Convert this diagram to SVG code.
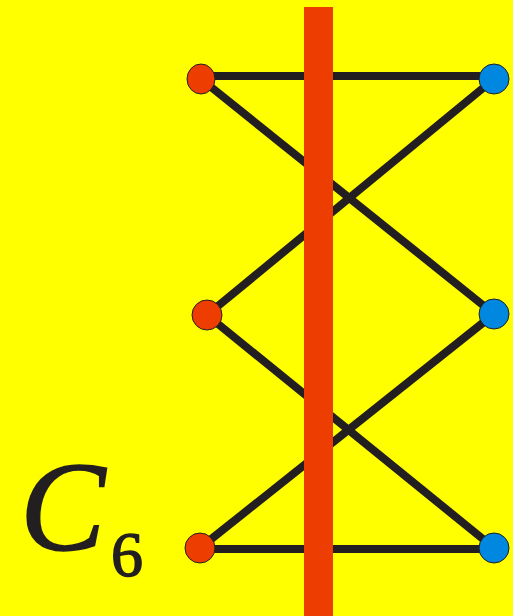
<svg xmlns="http://www.w3.org/2000/svg" width="513" height="616" viewBox="0 0 513 616">
<style>
.e{stroke:#231F20;stroke-width:8;fill:none;stroke-linecap:butt}
.r{fill:#EE3D00;stroke:#231F20;stroke-width:1}
.b{fill:#0088E0;stroke:#231F20;stroke-width:1}
.t{font-family:"Liberation Serif",serif;fill:#231F20}
</style>
<rect width="513" height="616" fill="#FFFF00"/>
<g id="edges">
<line class="e" x1="201" y1="76" x2="494" y2="76"/>
<line class="e" x1="201" y1="549" x2="494" y2="549"/>
<line class="e" x1="201" y1="79" x2="494" y2="314"/>
<line class="e" x1="494" y1="79" x2="207" y2="315"/>
<line class="e" x1="207" y1="315" x2="494" y2="548"/>
<line class="e" x1="494" y1="314" x2="200" y2="548"/>
</g>
<g id="bar"><rect x="304" y="7" width="29" height="609" fill="#EE3D00"/></g>
<g id="r1"><ellipse class="r" cx="201" cy="79" rx="14" ry="15"/></g>
<g id="r2"><ellipse class="r" cx="207" cy="315" rx="15" ry="15"/></g>
<g id="r3"><ellipse class="r" cx="200" cy="548" rx="15" ry="15"/></g>
<g id="b1"><circle class="b" cx="494" cy="79" r="15"/></g>
<g id="b2"><circle class="b" cx="494" cy="314" r="15"/></g>
<g id="b3"><circle class="b" cx="494" cy="548" r="15"/></g>
<g id="label">
<text class="t" x="20" y="550" font-size="128" font-style="italic" stroke="#231F20" stroke-width="1.5">C</text>
<text class="t" x="111" y="576" font-size="64" stroke="#231F20" stroke-width="1.5">6</text>
</g>
</svg>
